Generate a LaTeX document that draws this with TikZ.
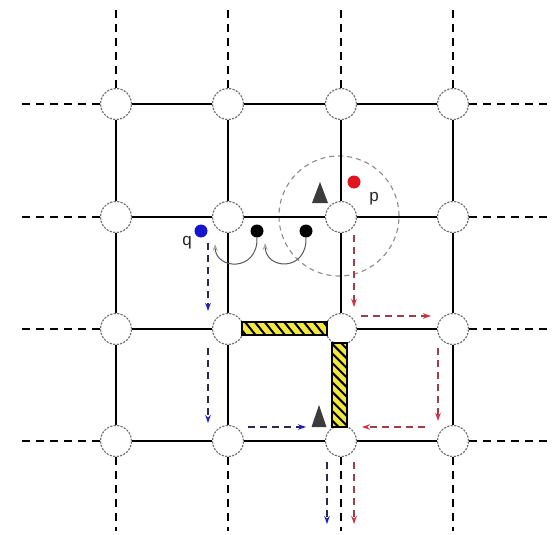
\documentclass[tikz,border=0pt]{standalone}
\usepackage{fontspec}
\setmainfont{Liberation Sans}
\usetikzlibrary{arrows.meta}
\definecolor{bluetip}{HTML}{2020C0}
\definecolor{bluedot}{HTML}{1515D0}
\definecolor{blueline}{HTML}{2A2A50}
\definecolor{redtip}{HTML}{D83040}
\definecolor{reddot}{HTML}{E01520}
\definecolor{redline}{HTML}{9A4048}
\definecolor{wallyellow}{HTML}{F2E83C}
\definecolor{tri}{HTML}{3C3C3C}
\tikzset{
  gridnode/.style={circle, draw=black!55, dash pattern=on 2.2pt off 1.3pt, line width=1.2pt, fill=white, minimum size=31pt, inner sep=0pt},
  gridline/.style={line width=1.5pt, black},
  outerline/.style={line width=1.6pt, black, dash pattern=on 8pt off 6pt},
  dot/.style={circle, minimum size=13pt, inner sep=0pt},
  bluearrow/.style={line width=1.4pt, draw=blueline, dash pattern=on 7pt off 5pt, -{Stealth[length=8pt,width=5.5pt,color=bluetip]}},
  redarrow/.style={line width=1.4pt, draw=redline, dash pattern=on 7pt off 5pt, -{Stealth[length=8pt,width=5.5pt,color=redtip]}},
  curvearrow/.style={line width=1pt, draw=gray!70!black, -{Stealth[length=7pt,width=5pt,open,color=gray!70]}},
  rangecircle/.style={circle, draw=gray!90, dash pattern=on 5pt off 4pt, line width=1.1pt, minimum size=120pt, inner sep=0pt},
  wallbox/.style={draw=black, line width=1.3pt},
  hatch/.style={line width=2pt, black},
  lbl/.style={font=\fontsize{17pt}{17pt}\selectfont, text=black!85, inner sep=0pt}
}
\begin{document}
\begin{tikzpicture}[x=1pt,y=-1pt]
\useasboundingbox (0,0) rectangle (555,535);
\fill[white] (0,0) rectangle (555,535);

% range circle
\node[rangecircle] (range) at (339,216) {};

% grid nodes
\foreach \c/\x in {1/116,2/228,3/341,4/453}{
  \foreach \r/\y in {1/104,2/217,3/329,4/441}{
    \node[gridnode] (n\r\c) at (\x,\y) {};
  }
  \coordinate (top\c) at (\x,5);
  \coordinate (bot\c) at (\x,531);
}
\foreach \r/\y in {1/104,2/217,3/329,4/441}{
  \coordinate (lft\r) at (17,\y);
  \coordinate (rgt\r) at (551,\y);
}

% solid grid lines
\foreach \r in {1,2,3,4}{
  \foreach \a/\b in {1/2,2/3,3/4}{
    \draw[gridline] (n\r\a) -- (n\r\b);
    \draw[gridline] (n\a\r) -- (n\b\r);
  }
}
% dashed outer lines
\foreach \k in {1,2,3,4}{
  \draw[outerline] (n1\k) -- (top\k);
  \draw[outerline] (n4\k) -- (bot\k);
  \draw[outerline] (n\k1) -- (lft\k);
  \draw[outerline] (n\k4) -- (rgt\k);
}

% walls
\fill[wallyellow] (242,322) rectangle (327,335);
\begin{scope}
  \clip (242,322) rectangle (327,335);
  \foreach \i in {0,...,10}{
    \draw[hatch] (232+\i*9.8,318) -- (232+\i*9.8+17,339);
  }
\end{scope}
\draw[wallbox] (242,322) rectangle (327,335);

\fill[wallyellow] (332,343) rectangle (347,427);
\begin{scope}
  \clip (332,343) rectangle (347,427);
  \foreach \i in {0,...,11}{
    \draw[hatch] (328,330+\i*9.6) -- (351,353+\i*9.6);
  }
\end{scope}
\draw[wallbox] (332,343) rectangle (347,427);

% triangles
\fill[tri] (320,182) -- (328,203) -- (312,203) -- cycle;
\fill[tri] (319,405) -- (326.5,427) -- (311.5,427) -- cycle;

% dots
\node[dot, fill=reddot] (p) at (354,182) {};
\node[dot, fill=bluedot] (q) at (201,231) {};
\node[dot, fill=black] (d1) at (257,231) {};
\node[dot, fill=black] (d2) at (306,231) {};
\node[lbl] (plbl) at (374,199) {p};
\node[lbl] (qlbl) at (187,243) {q};

% curved arrows
\coordinate (c1end) at (215,244);
\coordinate (c2end) at (265,243);
\draw[curvearrow] (d1.south) .. controls (258,272) and (216,270) .. (c1end);
\draw[curvearrow] (d2.south) .. controls (307,272) and (266,270) .. (c2end);

% blue arrows
\coordinate (b1s) at (208,243); \coordinate (b1e) at (208,311);
\coordinate (b2s) at (208,348); \coordinate (b2e) at (208,423);
\coordinate (b3s) at (248,427); \coordinate (b3e) at (306,427);
\coordinate (b4s) at (327,462); \coordinate (b4e) at (327,524);
\draw[bluearrow] (b1s) -- (b1e);
\draw[bluearrow] (b2s) -- (b2e);
\draw[bluearrow] (b3s) -- (b3e);
\draw[bluearrow] (b4s) -- (b4e);

% red arrows
\coordinate (r1s) at (354,235); \coordinate (r1e) at (354,307);
\coordinate (r2s) at (361,316); \coordinate (r2e) at (431,316);
\coordinate (r3s) at (438,348); \coordinate (r3e) at (438,421);
\coordinate (r4s) at (425,427); \coordinate (r4e) at (362,427);
\coordinate (r5s) at (354,462); \coordinate (r5e) at (354,524);
\draw[redarrow] (r1s) -- (r1e);
\draw[redarrow] (r2s) -- (r2e);
\draw[redarrow] (r3s) -- (r3e);
\draw[redarrow] (r4s) -- (r4e);
\draw[redarrow] (r5s) -- (r5e);
\end{tikzpicture}
\end{document}
